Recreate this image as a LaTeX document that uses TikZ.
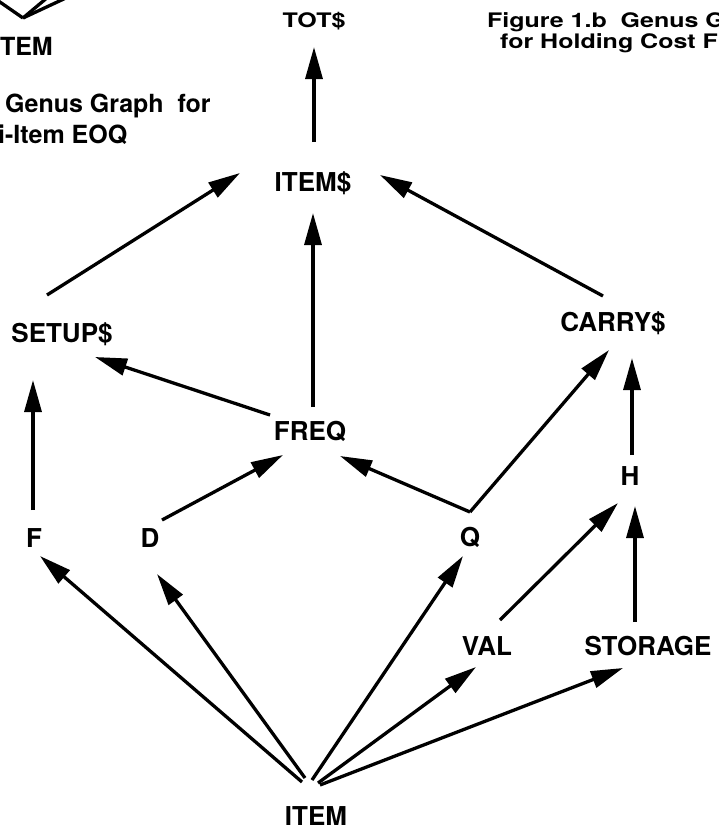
\documentclass[tikz,border=0pt]{standalone}
\usepackage{fontspec}
\setmainfont{TeX Gyre Heros}
\usepackage{graphicx}
\usetikzlibrary{arrows.meta}
\begin{document}
\begin{tikzpicture}[x=1pt,y=-1pt,
  lbl/.style={font=\fontsize{26}{30}\selectfont\bfseries, inner sep=0pt, anchor=base},
  captxt/.style={font=\fontsize{25}{30}\selectfont\bfseries, inner sep=0pt},
  edge/.style={line width=3.3pt, -{Triangle[length=32pt,width=17pt]}},
  plainline/.style={line width=3.3pt}]
\useasboundingbox (0,0) rectangle (719,830);

% fragments of neighbouring figure (top left)
\node[captxt, anchor=base east] (otheritem) at (53,55) {TEM};
\coordinate (vjoin) at (23,18);
\coordinate (va) at (-3,0);
\coordinate (vb) at (48,-3);
\coordinate (vc) at (68,-3);
\draw[plainline] (vjoin) -- (va);
\draw[plainline] (vjoin) -- (vb);
\draw[plainline] (vjoin) -- (vc);
\node[captxt, anchor=base west] (capla) at (5,112) {Genus Graph\ \ for};
\node[captxt, anchor=base west] (caplb) at (-2,143) {i-Item EOQ};

% caption of this figure (top right)
\node[captxt, anchor=base west] (capra) at (487,27) {\scalebox{1}[0.8]{Figure 1.b\ \ Genus G}};
\node[captxt, anchor=base west] (caprb) at (500,48) {\scalebox{1}[0.8]{for Holding Cost F}};

% nodes
\node[lbl, font=\fontsize{25}{30}\selectfont\bfseries] (tot) at (314,27) {\scalebox{1}[0.8]{TOT\$}};
\node[lbl] (items) at (313,191) {ITEM\$};
\node[lbl] (setup) at (62,342) {SETUP\$};
\node[lbl] (carry) at (613,331) {CARRY\$};
\node[lbl] (freq) at (310,440) {FREQ};
\node[lbl] (f) at (34,547) {F};
\node[lbl] (d) at (150,547) {D};
\node[lbl] (q) at (470,546) {Q};
\node[lbl] (h) at (630,485) {H};
\node[lbl] (val) at (487,655) {VAL};
\node[lbl] (storage) at (648,655) {STORAGE};
\node[lbl] (item) at (316,825) {ITEM};

% connectors
\draw[edge] ([shift={(1,-49)}]items.base) -- ([shift={(0,20)}]tot.base);
\draw[edge] ([shift={(-15,-47)}]setup.base) -- ([shift={(-73,-18)}]items.base);
\draw[edge] ([shift={(3,-33)}]freq.base) -- ([shift={(0,22)}]items.base);
\draw[edge] ([shift={(-10,-35)}]carry.base) -- ([shift={(67,-16)}]items.base);
\draw[edge] ([shift={(-40,-25)}]freq.base) -- ([shift={(33,15)}]setup.base);
\draw[edge] ([shift={(-1,-37)}]f.base) -- ([shift={(-29,38)}]setup.base);
\draw[edge] ([shift={(12,-27)}]d.base) -- ([shift={(-27,15)}]freq.base);
\draw[edge] ([shift={(0,-34)}]q.base) -- ([shift={(30,16)}]freq.base);
\draw[edge] ([shift={(0,-34)}]q.base) -- ([shift={(-4,19)}]carry.base);
\draw[edge] ([shift={(2,-30)}]h.base) -- ([shift={(19,27)}]carry.base);
\draw[edge] ([shift={(13,-35)}]val.base) -- ([shift={(-12,18)}]h.base);
\draw[edge] ([shift={(-13,-33)}]storage.base) -- ([shift={(5,21)}]h.base);
\draw[edge] ([shift={(-14,-43)}]item.base) -- ([shift={(6,9)}]f.base);
\draw[edge] ([shift={(-11,-47)}]item.base) -- ([shift={(7,27)}]d.base);
\draw[edge] ([shift={(-4,-45)}]item.base) -- ([shift={(-7,10)}]q.base);
\draw[edge] ([shift={(2,-42)}]item.base) -- ([shift={(-11,12)}]val.base);
\draw[edge] ([shift={(4,-40)}]item.base) -- ([shift={(-25,13)}]storage.base);
\end{tikzpicture}
\end{document}
